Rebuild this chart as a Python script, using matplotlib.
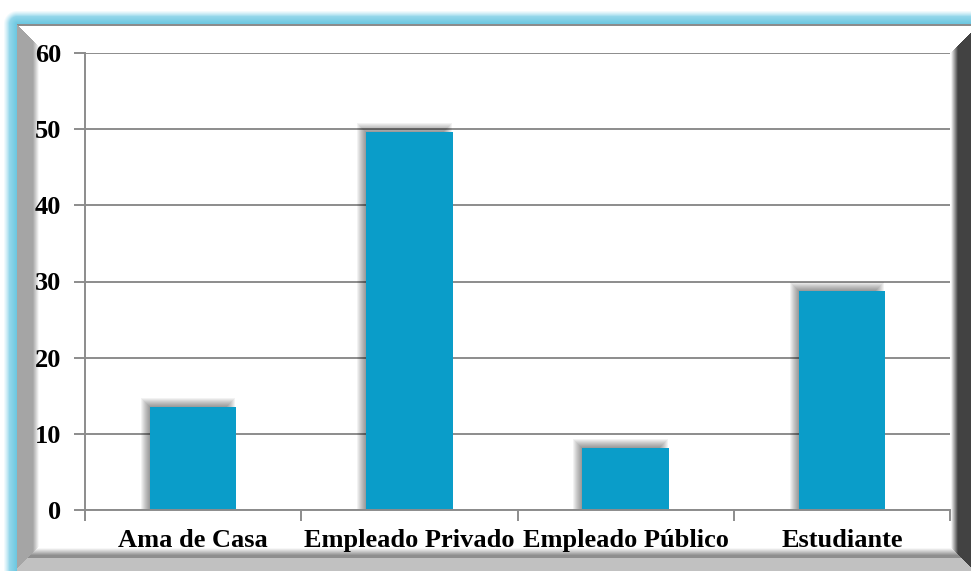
import numpy as np
import matplotlib
matplotlib.use("Agg")
import matplotlib.pyplot as plt
from matplotlib.patches import Rectangle

categories = ["Ama de Casa", "Empleado Privado", "Empleado Público", "Estudiante"]
values = [13.5, 49.6, 8.1, 28.7]
yticks = [0, 10, 20, 30, 40, 50, 60]

W, H = 971, 571
fig = plt.figure(figsize=(W / 100, H / 100), dpi=100)
fig.patch.set_facecolor("white")

# ---- decorative frame (background image) ----
yy, xx = np.mgrid[0:H, 0:W] + 0.5
img = np.ones((H, W, 3))

L, T = 17.0, 24.0
dx = np.clip(L - xx, 0, None)
dy = np.clip(T - yy, 0, None)
d = np.sqrt(dx ** 2 + dy ** 2)
outside = (xx < L) | (yy < T)
glow_a = np.clip((13.5 - d) / 6.0, 0, 1) * outside
blue = np.array([0.42, 0.78, 0.88])
light = np.array([0.70, 0.89, 0.95])
t = np.clip(d / 13.0, 0, 1)[..., None]
gcol = blue * (1 - t) + light * t
img = img * (1 - glow_a[..., None]) + gcol * glow_a[..., None]

inside = ~outside
dl = xx - L
db = H - yy
dr = W - xx

# top edge line
top_line = inside & (yy < T + 2)
img[top_line] = 0.55

# left bevel
left_reg = inside & (dl < 22) & (dl < (yy - T)) & (dl < db - 2)
v = np.where(dl < 16, 0.65, 0.65 + (dl - 16) / 6.0 * 0.35)
img[left_reg] = np.repeat(v[left_reg][:, None], 3, axis=1)

# bottom bevel
bot_reg = inside & (db < 23) & (db <= dl + 2) & (db < dr + 4)
bv = np.where(db > 16, 1 - (23 - db) / 7.0 * 0.42,
              np.where(db > 13, 0.56, 0.76))
img[bot_reg] = np.repeat(bv[bot_reg][:, None], 3, axis=1)

# right bevel
right_reg = inside & (dr < 20) & (dr < (yy - 32)) & (dr <= db - 4)
rv = np.where(dr < 13, 0.26, 0.26 + (dr - 13) / 7.0 * 0.74)
img[right_reg] = np.repeat(rv[right_reg][:, None], 3, axis=1)

ax_bg = fig.add_axes([0, 0, 1, 1], zorder=0)
ax_bg.imshow(img, extent=[0, W, H, 0], interpolation="bilinear", aspect="auto")
ax_bg.set_xlim(0, W)
ax_bg.set_ylim(H, 0)
ax_bg.axis("off")

# ---- chart axes ----
x0p, x1p, y0p, y1p = 85, 950, 510, 53
ax = fig.add_axes([x0p / W, (H - y0p) / H, (x1p - x0p) / W, (y0p - y1p) / H], zorder=1)
ax.set_facecolor("none")
ax.set_xlim(-0.5, len(categories) - 0.5)
ax.set_ylim(0, 60)

gridc = "#8c8c8c"
ax.set_axisbelow(True)
ax.yaxis.grid(True, color=gridc, linewidth=1.4, zorder=0)
ax.set_yticks(yticks)
ax.set_yticklabels([str(v) for v in yticks])

pxx = (len(categories)) / (x1p - x0p)
pxy = 60.0 / (y0p - y1p)
bw = 0.4
# shadows
for i, v in enumerate(values):
    for k in range(-4, 5):
        xl = i - bw / 2 - 5 * pxx - k * pxx
        xr = i + bw / 2 - 5 * pxx + k * pxx
        yt = v + 5 * pxy + k * pxy
        ax.add_patch(Rectangle((xl, 0), xr - xl, yt, facecolor="black",
                               edgecolor="none", alpha=0.05, zorder=1.5))

ax.bar(range(len(categories)), values, width=bw, color="#0A9DC9", zorder=2)

ax.set_xticks(range(len(categories)))
ax.set_xticklabels(categories)
ax.set_xticks(np.arange(-0.5, len(categories)), minor=True)
ax.tick_params(axis="x", which="major", length=0, pad=14)
ax.tick_params(axis="x", which="minor", length=8, width=1.4, color=gridc)
ax.tick_params(axis="y", length=8, width=1.4, color=gridc, pad=9)

for lab in ax.get_xticklabels() + ax.get_yticklabels():
    lab.set_fontfamily("Liberation Serif")
    lab.set_fontweight("bold")
    lab.set_fontsize(19)
    lab.set_color("black")

for s in ["top", "right"]:
    ax.spines[s].set_visible(False)
for s in ["left", "bottom"]:
    ax.spines[s].set_color(gridc)
    ax.spines[s].set_linewidth(1.4)

fig.savefig("out.png", dpi=100)
